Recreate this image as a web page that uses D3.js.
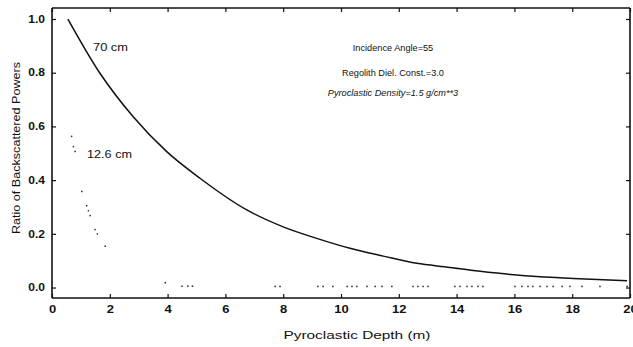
<!DOCTYPE html>
<html><head><meta charset="utf-8">
<script src="https://cdn.jsdelivr.net/npm/d3@7"></script>
<style>
html,body{margin:0;padding:0;background:#fff;}
svg{display:block;font-family:"Liberation Sans",Arial,Helvetica,sans-serif;}
</style></head>
<body><svg id="chart" width="633" height="347"></svg>
<script>
// ---- data ----
const depth70 = [0.55, 1.66, 2.81, 3.97, 5.12, 6.74, 8.0, 9.16, 10.31, 11.46, 12.62, 13.77, 14.58, 15.73, 16.89, 18.04, 19.9];
const ratio70 = [1.0, 0.798, 0.636, 0.506, 0.407, 0.289, 0.226, 0.183, 0.146, 0.117, 0.090, 0.075, 0.063, 0.050, 0.040, 0.034, 0.025];
const depth126 = [0.68, 0.74, 0.8, 1.03, 1.2, 1.26, 1.32, 1.49, 1.57, 1.84, 3.92, 4.5, 4.7, 4.86,
  7.72, 7.89, 9.2, 9.38, 9.72, 10.21, 10.38, 10.55, 10.9, 11.18, 11.42, 11.76, 12.49, 12.66, 12.84, 13.01,
  13.94, 14.12, 14.36, 14.53, 14.74, 14.91, 16.02, 16.26, 16.47, 16.64, 16.89, 17.13, 17.34, 17.65, 17.92, 18.34, 18.96, 19.9];
const ratio126 = [0.563, 0.525, 0.507, 0.358, 0.305, 0.286, 0.268, 0.216, 0.2, 0.154, 0.018, 0.005, 0.005, 0.005,
  0.004, 0.004, 0.004, 0.004, 0.004, 0.004, 0.004, 0.004, 0.004, 0.004, 0.004, 0.004, 0.004, 0.004, 0.004, 0.004,
  0.004, 0.004, 0.004, 0.004, 0.004, 0.004, 0.004, 0.004, 0.004, 0.004, 0.004, 0.004, 0.004, 0.004, 0.004, 0.004, 0.004, 0.004];
const xTicks = [0, 2, 4, 6, 8, 10, 12, 14, 16, 18, 20];
const yTicks = [0, 0.2, 0.4, 0.6, 0.8, 1.0];
const yTickLabels = ["0.0", "0.2", "0.4", "0.6", "0.8", "1.0"];
const seriesLabels = ["70 cm", "12.6 cm"];
const notes = ["Incidence Angle=55", "Regolith Diel. Const.=3.0", "Pyroclastic Density=1.5 g/cm**3"];
const xTitle = "Pyroclastic Depth (m)";
const yTitle = "Ratio of Backscattered Powers";

// ---- layout ----
const svg = d3.select("#chart");
const L = 52, R = 630, T = 8, B = 298;
const x = d3.scaleLinear().domain([0, 20]).range([L, R]);
const y = d3.scaleLinear().domain([-0.039, 1.041]).range([B, T]);
const ink = "#111";

function stretch(sel, f) {
  sel.each(function () {
    const w = this.getComputedTextLength();
    d3.select(this).attr("textLength", w * f).attr("lengthAdjust", "spacingAndGlyphs");
  });
}
function fitTo(sel, w) {
  sel.attr("textLength", w).attr("lengthAdjust", "spacingAndGlyphs");
}

// axes
const gx = svg.append("g").attr("transform", `translate(0,${B})`)
  .call(d3.axisBottom(x).tickValues(xTicks).tickFormat(d3.format("d")).tickSizeInner(-4).tickSizeOuter(0).tickPadding(8));
const gy = svg.append("g").attr("transform", `translate(${L},0)`)
  .call(d3.axisLeft(y).tickValues(yTicks).tickFormat((d, i) => yTickLabels[i]).tickSizeInner(-4).tickSizeOuter(0).tickPadding(7));
const gt = svg.append("g").attr("transform", `translate(0,${T})`)
  .call(d3.axisTop(x).tickValues(xTicks).tickFormat("").tickSizeInner(-4).tickSizeOuter(0));
const gr = svg.append("g").attr("transform", `translate(${R},0)`)
  .call(d3.axisRight(y).tickValues(yTicks).tickFormat("").tickSizeInner(-4).tickSizeOuter(0));

[gx, gy, gt, gr].forEach(g => {
  g.select(".domain").attr("stroke", ink).attr("stroke-width", 1.6);
  g.selectAll(".tick line").attr("stroke", ink).attr("stroke-width", 1.2);
  g.selectAll(".tick text").attr("fill", ink).attr("font-size", 10).attr("font-family", null).attr("font-weight", "bold");
});
gx.select(".domain").attr("d", `M${L},0H${R}`);
gy.select(".domain").attr("d", `M0,${T}V${B}`);
gt.select(".domain").attr("d", `M${L},0H${R}`);
gr.select(".domain").attr("d", `M0,${T}V${B}`);
stretch(gx.selectAll(".tick text"), 1.3);
stretch(gy.selectAll(".tick text"), 1.2);

// 70 cm curve
const line = d3.line().x((d, i) => x(depth70[i])).y((d, i) => y(ratio70[i])).curve(d3.curveMonotoneX);
svg.append("path").datum(ratio70).attr("d", line)
  .attr("fill", "none").attr("stroke", ink).attr("stroke-width", 1.5);

// 12.6 cm dotted
svg.append("g").selectAll("circle").data(ratio126).join("circle")
  .attr("cx", (d, i) => x(depth126[i])).attr("cy", d => y(d))
  .attr("r", 0.85).attr("fill", "#333");

// series labels
svg.append("text").attr("x", 93).attr("y", 51).attr("font-size", 10).attr("fill", ink)
  .text(seriesLabels[0]).call(fitTo, 35);
svg.append("text").attr("x", 87).attr("y", 158).attr("font-size", 10).attr("fill", ink)
  .text(seriesLabels[1]).call(fitTo, 45);

// notes
const noteY = [50.5, 75.5, 95.5];
notes.forEach((t, i) => {
  svg.append("text").attr("x", 393).attr("y", noteY[i]).attr("text-anchor", "middle")
    .attr("font-size", 9.2).attr("fill", ink).attr("font-style", i === 2 ? "italic" : null)
    .text(t);
});

// titles
svg.append("text").attr("x", 357).attr("y", 339).attr("text-anchor", "middle")
  .attr("font-size", 10.5).attr("fill", ink).text(xTitle).call(fitTo, 147);
svg.append("text").attr("transform", "translate(20,148) rotate(-90)").attr("text-anchor", "middle")
  .attr("font-size", 10.5).attr("fill", ink).text(yTitle).call(fitTo, 172);
</script></body></html>
